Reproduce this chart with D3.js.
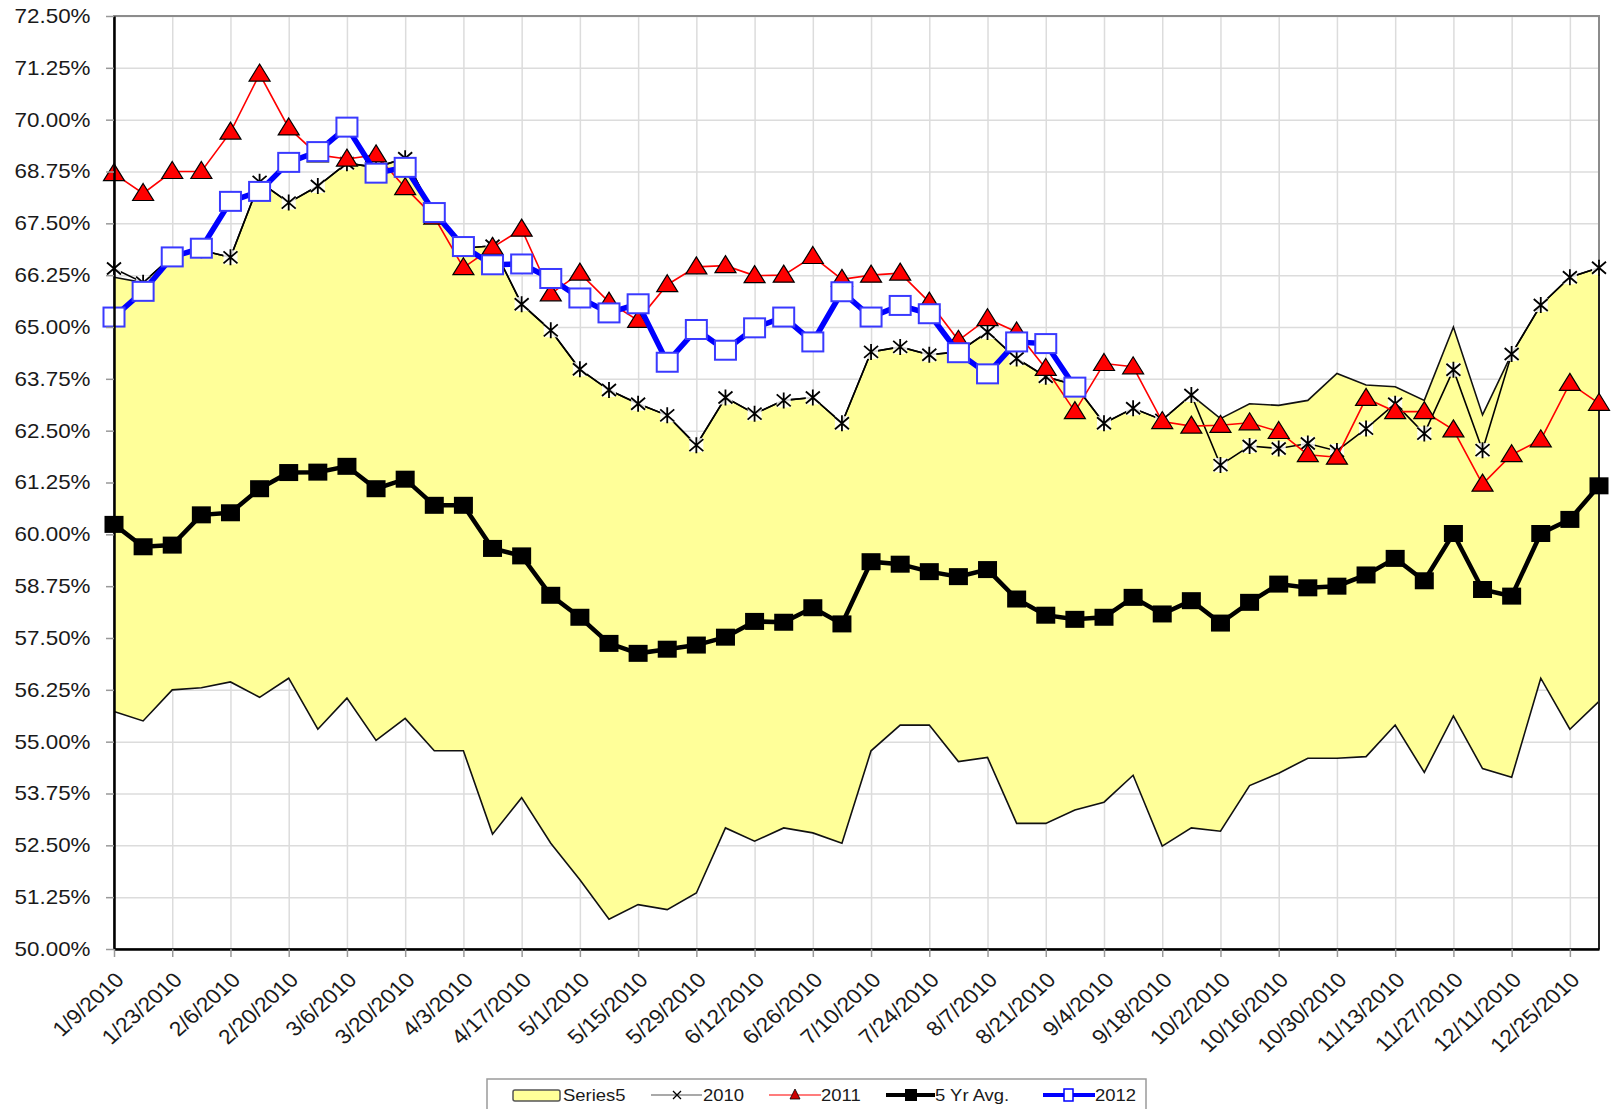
<!DOCTYPE html>
<html>
<head>
<meta charset="utf-8">
<script src="https://cdnjs.cloudflare.com/ajax/libs/d3/7.8.5/d3.min.js"></script>
<style>
  body { margin: 0; background: #fff; }
  text { font-family: "Liberation Sans", Arial, sans-serif; fill: #1a1a1a; }
</style>
</head>
<body>
<div id="chart-area"></div>
<script>
// weekly categories
const dates = ['1/9/2010','1/16/2010','1/23/2010','1/30/2010','2/6/2010','2/13/2010','2/20/2010','2/27/2010',
  '3/6/2010','3/13/2010','3/20/2010','3/27/2010','4/3/2010','4/10/2010','4/17/2010','4/24/2010',
  '5/1/2010','5/8/2010','5/15/2010','5/22/2010','5/29/2010','6/5/2010','6/12/2010','6/19/2010',
  '6/26/2010','7/3/2010','7/10/2010','7/17/2010','7/24/2010','7/31/2010','8/7/2010','8/14/2010',
  '8/21/2010','8/28/2010','9/4/2010','9/11/2010','9/18/2010','9/25/2010','10/2/2010','10/9/2010',
  '10/16/2010','10/23/2010','10/30/2010','11/6/2010','11/13/2010','11/20/2010','11/27/2010','12/4/2010',
  '12/11/2010','12/18/2010','12/25/2010','1/1/2011'];

const xTickLabels = ['1/9/2010','1/23/2010','2/6/2010','2/20/2010','3/6/2010','3/20/2010','4/3/2010',
  '4/17/2010','5/1/2010','5/15/2010','5/29/2010','6/12/2010','6/26/2010','7/10/2010','7/24/2010',
  '8/7/2010','8/21/2010','9/4/2010','9/18/2010','10/2/2010','10/16/2010','10/30/2010','11/13/2010',
  '11/27/2010','12/11/2010','12/25/2010'];

const yTicks = [50, 51.25, 52.5, 53.75, 55, 56.25, 57.5, 58.75, 60, 61.25, 62.5, 63.75,
  65, 66.25, 67.5, 68.75, 70, 71.25, 72.5];

// Series5 band (low / high edge)
const bandLow = [55.73, 55.5, 56.25, 56.3, 56.44, 56.07, 56.53, 55.3, 56.05, 55.03, 55.56, 54.78, 54.78,
  52.77, 53.65, 52.55, 51.67, 50.72, 51.07, 50.95, 51.35, 52.92, 52.6, 52.92, 52.8, 52.55,
  54.78, 55.4, 55.4, 54.52, 54.62, 53.03, 53.03, 53.35, 53.54, 54.19, 52.48, 52.92, 52.84,
  53.94, 54.24, 54.6, 54.6, 54.64, 55.4, 54.26, 55.62, 54.35, 54.14, 56.53, 55.3, 55.97];
const bandHigh = [66.2, 66.07, 66.7, 66.85, 66.68, 68.5, 68.0, 68.4, 68.95, 68.85, 69.07, 67.7, 66.9,
  66.96, 65.55, 64.92, 63.98, 63.48, 63.15, 62.87, 62.15, 63.3, 62.91, 63.23, 63.3, 62.68,
  64.4, 64.52, 64.33, 64.4, 64.88, 64.24, 63.8, 63.6, 62.68, 63.04, 62.76, 63.36, 62.79,
  63.15, 63.11, 63.23, 63.88, 63.6, 63.56, 63.23, 65.0, 62.88, 64.35, 65.53, 66.2, 66.43];

const y2010 = [66.41, 66.07, 66.7, 66.85, 66.68, 68.5, 68.0, 68.4, 68.95, 68.85, 69.07, 67.7, 66.9,
  66.96, 65.55, 64.92, 63.98, 63.48, 63.15, 62.87, 62.15, 63.3, 62.91, 63.23, 63.3, 62.68,
  64.4, 64.52, 64.33, 64.4, 64.88, 64.24, 63.8, 63.6, 62.68, 63.04, 62.76, 63.36, 61.67,
  62.13, 62.07, 62.19, 62.01, 62.55, 63.15, 62.43, 63.97, 62.03, 64.35, 65.53, 66.2, 66.43];

const y2011 = [68.7, 68.22, 68.75, 68.75, 69.7, 71.1, 69.8, 69.15, 69.05, 69.15, 68.36, 67.65, 66.43,
  66.92, 67.36, 65.8, 66.3, 65.6, 65.16, 66.02, 66.45, 66.48, 66.24, 66.25, 66.7, 66.15,
  66.25, 66.3, 65.6, 64.68, 65.2, 64.88, 64.0, 62.96, 64.12, 64.04, 62.72, 62.61, 62.63,
  62.69, 62.48, 61.92, 61.86, 63.28, 62.96, 62.96, 62.52, 61.21, 61.92, 62.28, 63.64, 63.16];

const avg5 = [60.24, 59.7, 59.74, 60.47, 60.52, 61.1, 61.49, 61.5, 61.64, 61.1, 61.33, 60.7, 60.7,
  59.66, 59.48, 58.53, 58.0, 57.37, 57.13, 57.23, 57.33, 57.52, 57.9, 57.88, 58.23, 57.84,
  59.34, 59.28, 59.1, 58.98, 59.15, 58.44, 58.05, 57.95, 58.0, 58.48, 58.08, 58.4, 57.86,
  58.36, 58.8, 58.71, 58.75, 59.02, 59.42, 58.88, 60.02, 58.67, 58.51, 60.02, 60.36, 61.17];

const y2012 = [65.24, 65.86, 66.69, 66.9, 68.03, 68.27, 68.97, 69.23, 69.82, 68.71, 68.85, 67.76, 66.94,
  66.5, 66.52, 66.17, 65.7, 65.34, 65.56, 64.15, 64.94, 64.44, 64.98, 65.24, 64.64, 65.85,
  65.24, 65.52, 65.32, 64.38, 63.87, 64.64, 64.6, 63.55];

const legendNames = ['Series5', '2010', '2011', '5 Yr Avg.', '2012'];

const margin = { left: 114, right: 16, top: 16, bottom: 160 };
const width = 1615 - margin.left - margin.right;
const height = 1109 - margin.top - margin.bottom;
const stretch = 'scale(1.12,1)';

const svg = d3.select('#chart-area').append('svg')
  .attr('width', 1615)
  .attr('height', 1109);

const g = svg.append('g')
  .attr('transform', `translate(${margin.left}, ${margin.top})`);

const x = d3.scalePoint()
  .domain(dates)
  .range([0, width]);

const y = d3.scaleLinear()
  .domain([50, 72.5])
  .range([height, 0]);

// gridlines
g.append('g')
  .attr('class', 'y-grid')
  .call(d3.axisLeft(y).tickValues(yTicks).tickSize(-width).tickFormat(''))
  .call(s => s.select('.domain').remove())
  .selectAll('line').attr('stroke', '#dcdcdc').attr('stroke-width', 1.5);

g.append('g')
  .attr('class', 'x-grid')
  .attr('transform', `translate(0, ${height})`)
  .call(d3.axisBottom(x).tickValues(xTickLabels).tickSize(-height).tickFormat(''))
  .call(s => s.select('.domain').remove())
  .selectAll('line').attr('stroke', '#dcdcdc').attr('stroke-width', 1.5);

// Series5 band
const idx = d3.range(dates.length);
g.append('path')
  .datum(idx)
  .attr('fill', '#ffff99')
  .attr('d', d3.area()
    .x(i => x(dates[i]))
    .y0(i => y(bandLow[i]))
    .y1(i => y(bandHigh[i])));

const edge = arr => d3.line().x((d, i) => x(dates[i])).y(d => y(d))(arr);
g.append('path').attr('d', edge(bandLow)).attr('fill', 'none').attr('stroke', '#111').attr('stroke-width', 1.6);
g.append('path').attr('d', edge(bandHigh)).attr('fill', 'none').attr('stroke', '#111').attr('stroke-width', 1.6);

// frame
g.append('rect')
  .attr('width', width).attr('height', height)
  .attr('fill', 'none').attr('stroke', '#8c8c8c').attr('stroke-width', 2);
g.append('line')
  .attr('x1', width).attr('x2', width).attr('y1', y(66.5)).attr('y2', height)
  .attr('stroke', '#222').attr('stroke-width', 2);

// 2010
g.append('path').attr('d', edge(y2010)).attr('fill', 'none').attr('stroke', '#000').attr('stroke-width', 1.6);
const stars = g.selectAll('.star').data(y2010).enter().append('g')
  .attr('class', 'star')
  .attr('transform', (d, i) => `translate(${x(dates[i])}, ${y(d)})`);
stars.append('rect').attr('x', -7).attr('y', -7).attr('width', 14).attr('height', 14).attr('fill', '#fff').attr('opacity', 0.85);
stars.append('path').attr('d', 'M-7,-6L7,6M-7,6L7,-6M0,-8L0,8').attr('stroke', '#000').attr('stroke-width', 1.8);

// 2011
g.append('path').attr('d', edge(y2011)).attr('fill', 'none').attr('stroke', '#ff0000').attr('stroke-width', 1.6);
g.selectAll('.tri').data(y2011).enter().append('path')
  .attr('class', 'tri')
  .attr('transform', (d, i) => `translate(${x(dates[i])}, ${y(d)})`)
  .attr('d', 'M0,-10L10.5,7L-10.5,7Z')
  .attr('fill', '#ff0000').attr('stroke', '#000').attr('stroke-width', 1.2);

// 5 yr avg
g.append('path').attr('d', edge(avg5)).attr('fill', 'none').attr('stroke', '#000').attr('stroke-width', 4.5);
g.selectAll('.sq').data(avg5).enter().append('rect')
  .attr('class', 'sq')
  .attr('x', (d, i) => x(dates[i]) - 9.5)
  .attr('y', d => y(d) - 8.5)
  .attr('width', 19).attr('height', 17)
  .attr('fill', '#000');

// 2012
g.append('path').attr('d', edge(y2012)).attr('fill', 'none').attr('stroke', '#0000ff').attr('stroke-width', 5.5);
g.selectAll('.bsq').data(y2012).enter().append('rect')
  .attr('class', 'bsq')
  .attr('x', (d, i) => x(dates[i]) - 10.5)
  .attr('y', d => y(d) - 9.5)
  .attr('width', 21).attr('height', 19)
  .attr('fill', '#fff').attr('stroke', '#3a3aff').attr('stroke-width', 2);

// axes
const yAxis = g.append('g')
  .attr('class', 'y-axis')
  .call(d3.axisLeft(y).tickValues(yTicks).tickSize(8).tickSizeOuter(0).tickFormat(d => d.toFixed(2) + '%'));
yAxis.select('.domain').attr('stroke', '#000').attr('stroke-width', 2.5);
yAxis.selectAll('.tick line').attr('stroke', '#999').attr('stroke-width', 1.5);
yAxis.selectAll('text')
  .attr('x', -21)
  .attr('transform', stretch)
  .attr('font-size', '20px')
  .attr('fill', '#1a1a1a');

const xAxis = g.append('g')
  .attr('class', 'x-axis')
  .attr('transform', `translate(0, ${height})`)
  .call(d3.axisBottom(x).tickValues(xTickLabels).tickSize(8).tickSizeOuter(0));
xAxis.select('.domain').attr('stroke', '#000').attr('stroke-width', 2.5);
xAxis.selectAll('.tick line').attr('stroke', '#999').attr('stroke-width', 1.5);
xAxis.selectAll('text')
  .attr('x', 0).attr('y', 0).attr('dy', '0.35em')
  .attr('text-anchor', 'end')
  .attr('font-size', '20.5px')
  .attr('fill', '#1a1a1a')
  .attr('transform', `translate(5, 27) ${stretch} rotate(-45)`);

// legend
const legend = svg.append('g').attr('class', 'legend');
legend.append('rect')
  .attr('x', 487).attr('y', 1079).attr('width', 659).attr('height', 40)
  .attr('fill', '#fff').attr('stroke', '#9a9a9a').attr('stroke-width', 1.5);

const ly = 1095;
const lx = [513, 651, 769, 886, 1043];
const textX = [563, 703, 821, 935, 1095];

legend.append('rect').attr('x', lx[0]).attr('y', ly - 5).attr('width', 47).attr('height', 11)
  .attr('fill', '#ffff99').attr('stroke', '#555').attr('stroke-width', 1.5).attr('rx', 2);

legend.append('line').attr('x1', lx[1]).attr('x2', lx[1] + 51).attr('y1', ly).attr('y2', ly)
  .attr('stroke', '#555').attr('stroke-width', 1.2);
legend.append('path').attr('d', `M${lx[1] + 22},${ly - 4}L${lx[1] + 30},${ly + 4}M${lx[1] + 22},${ly + 4}L${lx[1] + 30},${ly - 4}`)
  .attr('stroke', '#000').attr('stroke-width', 1.3);

legend.append('line').attr('x1', lx[2]).attr('x2', lx[2] + 52).attr('y1', ly).attr('y2', ly)
  .attr('stroke', '#ff5050').attr('stroke-width', 1.5);
legend.append('path').attr('d', `M${lx[2] + 26},${ly - 6}L${lx[2] + 31},${ly + 4}L${lx[2] + 21},${ly + 4}Z`)
  .attr('fill', '#d00000').attr('stroke', '#000').attr('stroke-width', 0.8);

legend.append('line').attr('x1', lx[3]).attr('x2', lx[3] + 49).attr('y1', ly).attr('y2', ly)
  .attr('stroke', '#000').attr('stroke-width', 4);
legend.append('rect').attr('x', lx[3] + 19).attr('y', ly - 6).attr('width', 12).attr('height', 12).attr('fill', '#000');

legend.append('line').attr('x1', lx[4]).attr('x2', lx[4] + 52).attr('y1', ly).attr('y2', ly)
  .attr('stroke', '#0000ff').attr('stroke-width', 4);
legend.append('rect').attr('x', lx[4] + 21).attr('y', ly - 6).attr('width', 9).attr('height', 12)
  .attr('fill', '#fff').attr('stroke', '#0000ff').attr('stroke-width', 1.5);

legend.selectAll('.ltext').data(legendNames).enter().append('text')
  .attr('class', 'ltext')
  .attr('transform', (d, i) => `translate(${textX[i]}, ${ly}) ${stretch}`)
  .attr('dy', '0.35em')
  .attr('font-size', '16.5px')
  .text(d => d);
</script>
</body>
</html>
